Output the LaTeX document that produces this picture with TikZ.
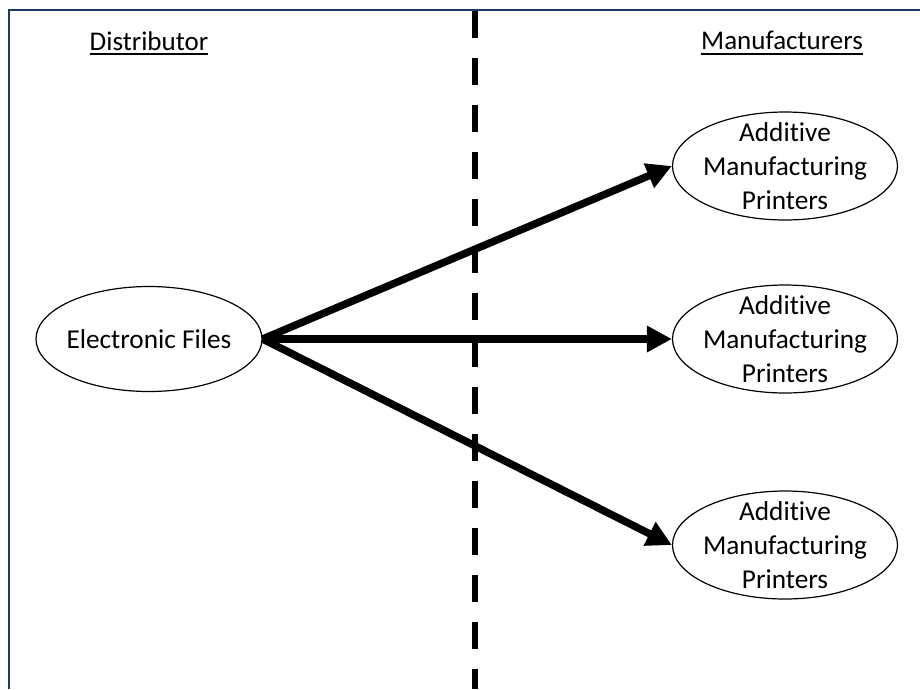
\documentclass[tikz,border=0pt]{standalone}
\usepackage{fontspec}
\setmainfont{Carlito}[Ligatures={NoCommon}]
\usetikzlibrary{arrows.meta,shapes.geometric}
\definecolor{framecol}{HTML}{1C3A63}
\newcommand\myul[1]{\leavevmode\vtop{\hbox{#1}\kern2.5pt\hrule height 2pt}}
\tikzset{
  lbl/.style={font=\fontsize{27}{34}\selectfont, inner sep=0pt},
  oval/.style={ellipse, draw=black, line width=1.2pt, minimum width=#1, inner xsep=-15pt, inner ysep=-20pt, align=center,
    font=\fontsize{27.3}{34}\selectfont},
  flow/.style={line width=7.5pt, -{Triangle[length=25pt,width=25pt]}}
}
\begin{document}
\begin{tikzpicture}[x=1pt,y=-1pt]
\useasboundingbox (0,0) rectangle (920,689);
\fill[white] (0,0) rectangle (920,689);
% frame (only top and left edges visible)
\draw[framecol, line width=2.6pt] (9,689) -- (9,10) -- (920,10);
% separator
\draw[black, line width=6pt, dash pattern=on 27pt off 20pt] (475,11) -- (475,689);
% headings
\node[lbl] (dist) at (149,43) {\myul{Distributor}};
\node[lbl] (manu) at (782,43) {\myul{Manufacturers}};
% ellipses
\node[oval=226pt, minimum height=105pt] (ef) at (149,339) {Electronic Files};
\node[oval=225pt, minimum height=108pt] (p1) at (785,166) {Additive\\Manufacturing\\Printers};
\node[oval=225pt, minimum height=108pt] (p2) at (785,339) {Additive\\Manufacturing\\Printers};
\node[oval=225pt, minimum height=108pt] (p3) at (785,545) {Additive\\Manufacturing\\Printers};
% arrows
\draw[flow] (ef.east) -- (p1.west);
\draw[flow] (ef.east) -- (p2.west);
\draw[flow] (ef.east) -- (p3.west);
\end{tikzpicture}
\end{document}
